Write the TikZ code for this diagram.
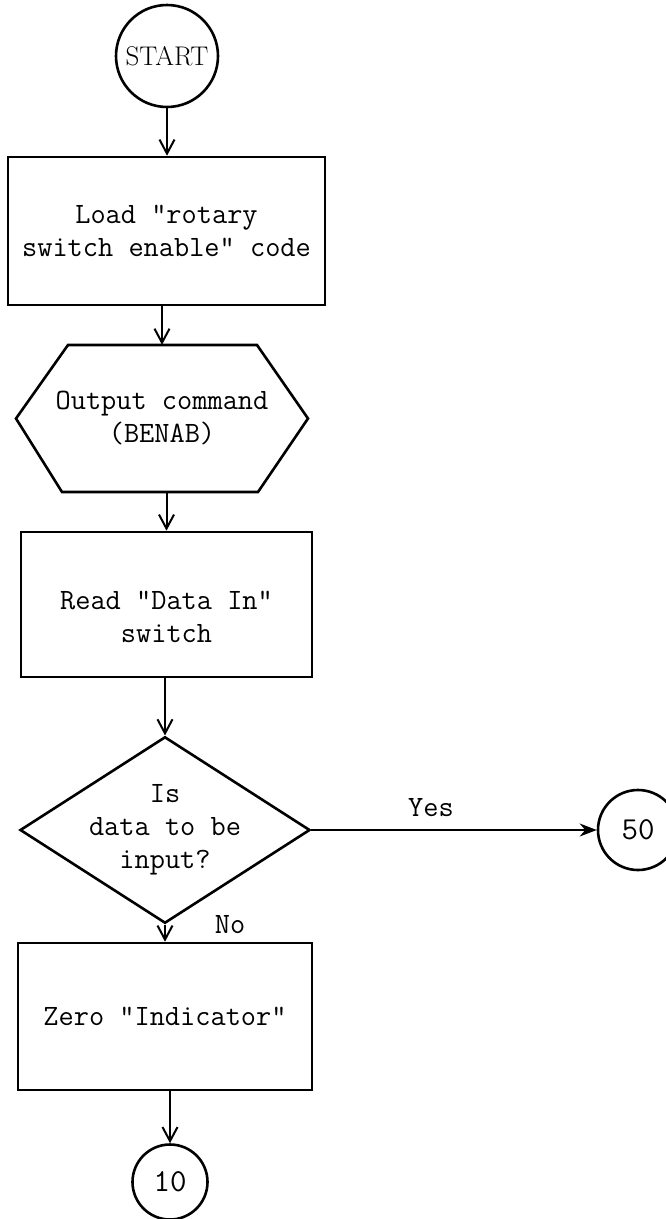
\documentclass[tikz,border=0pt]{standalone}
\usepackage{fontspec}
\usetikzlibrary{arrows.meta,shapes.geometric}
\newcommand{\flowfont}{\ttfamily\addfontfeatures{FakeBold=1.5}\fontsize{29.5}{33}\selectfont}
\begin{document}
\begin{tikzpicture}[x=1pt,y=-1pt,
  every node/.style={font=\flowfont, align=center},
  shapeline/.style={draw, line width=2.6pt},
  procbox/.style={shapeline, rectangle, inner sep=0pt},
  term/.style={shapeline, circle, inner sep=0pt},
  decision/.style={shapeline, diamond, inner sep=-14pt},
  flow/.style={line width=2pt, -{Straight Barb[length=14pt,width=15pt,line width=2pt]}},
  yesflow/.style={line width=1.8pt, -{Stealth[length=17pt,width=13pt]}},
  refnum/.style={font=\ttfamily\addfontfeatures{FakeBold=1.5}\fontsize{32}{36}\selectfont}
]
\useasboundingbox (0,0) rectangle (666,1219);

% terminals and connectors
\node[term, minimum size=102pt, font=\rmfamily\addfontfeatures{FakeBold=1}\fontsize{27}{30}\selectfont] (start) at (167,56) {START};
\node[term, refnum, minimum size=80pt] (c50) at (638,830) {50};
\node[term, refnum, minimum size=75pt] (c10) at (170,1182) {10};

% processing boxes
\node[procbox, minimum width=317pt, minimum height=148pt] (load) at (166.5,231)
  {Load "rotary\\switch enable" code};
\node[procbox, minimum width=291pt, minimum height=145pt] (read) at (166.5,604.5) {};
\node (readtext) at (166.5,617) {Read "Data In"\\switch};
\node[procbox, minimum width=294pt, minimum height=147pt] (zero) at (165,1016.5)
  {Zero "Indicator"};

% output (hexagon)
\node[inner sep=0pt, minimum width=190pt, minimum height=147pt] (hex) at (162,418.5)
  {Output command\\(BENAB)};
\draw[shapeline, line join=miter]
  ([shift={(-94,-73.5)}]hex.center) -- ([shift={(95,-73.5)}]hex.center)
  -- ([shift={(146,0)}]hex.center) -- ([shift={(96,73.5)}]hex.center)
  -- ([shift={(-100,73.5)}]hex.center) -- ([shift={(-146,0)}]hex.center) -- cycle;

% decision
\node[decision, minimum width=290pt, minimum height=145pt] (dec) at (165,830)
  {Is\\data to be\\input?};

% flow lines
\draw[flow] (start.south) -- (start.south |- load.north);
\draw[flow] (load.south -| hex.north) -- (hex.north);
\draw[flow] (hex.south -| read.north) -- (read.north);
\draw[flow] (dec.north |- read.south) -- (dec.north);
\draw[flow] (dec.south) -- (dec.south |- zero.north);
\draw[flow] (c10.north |- zero.south) -- (c10.north);
\draw[yesflow] (dec.east) -- (c50.west);

% branch labels
\node (yes) at (431,808) {Yes};
\node (no) at (230,925) {No};
\end{tikzpicture}
\end{document}
